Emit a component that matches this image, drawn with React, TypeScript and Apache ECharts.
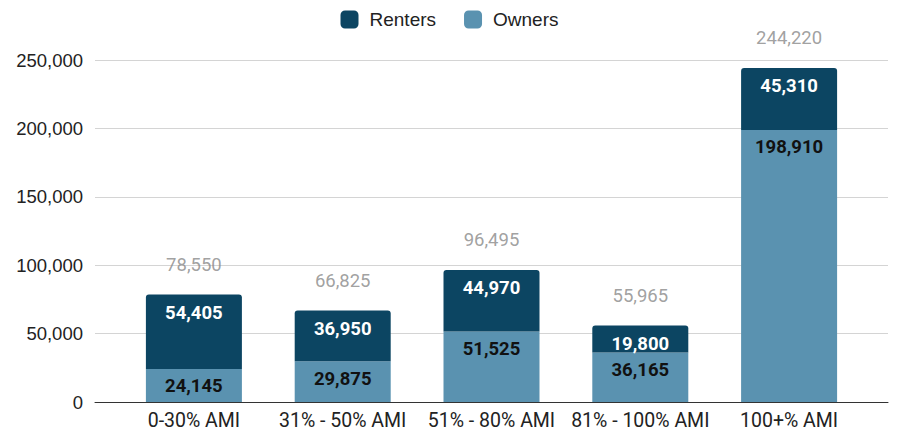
import React, { useEffect, useRef } from "react";
import * as echarts from "echarts";

const categories = ["0-30% AMI", "31% - 50% AMI", "51% - 80% AMI", "81% - 100% AMI", "100+% AMI"];
const owners = [24145, 29875, 51525, 36165, 198910];
const renters = [54405, 36950, 44970, 19800, 45310];
const totals = [78550, 66825, 96495, 55965, 244220];
const yTicks = [0, 50000, 100000, 150000, 200000, 250000];

const fmt = (v: number) => v.toLocaleString("en-US");
const SANS = "'Liberation Sans', Arial, sans-serif";

export default function App() {
  const ref = useRef<HTMLDivElement>(null);
  useEffect(() => {
    const chart = echarts.init(ref.current!, undefined, { renderer: "svg" });
    const top = 60;
    const bottom = 33;
    chart.setOption({
      animation: false,
      legend: {
        data: ["Renters", "Owners"],
        top: 5,
        left: "center",
        itemWidth: 18,
        itemHeight: 18,
        itemGap: 28,
        icon: "roundRect",
        textStyle: { fontFamily: SANS, fontSize: 19, color: "#222", padding: [0, 0, 0, 6] },
      },
      grid: [
        { left: 95, right: 11, top, bottom },
        { left: 119.5, right: 35.5, top, bottom },
      ],
      xAxis: [
        {
          type: "category",
          gridIndex: 0,
          data: categories,
          axisLine: { lineStyle: { color: "#333", width: 1 } },
          axisTick: { show: false },
          axisLabel: { show: false },
        },
        {
          type: "category",
          gridIndex: 1,
          data: categories,
          axisLine: { show: false },
          axisTick: { show: false },
          axisLabel: { interval: 0, fontFamily: "Roboto", fontSize: 19.5, color: "#222", margin: 8 },
        },
      ],
      yAxis: [
        {
          type: "value",
          gridIndex: 0,
          min: yTicks[0],
          max: yTicks[yTicks.length - 1],
          interval: 50000,
          axisLine: { show: false },
          axisTick: { show: false },
          splitLine: { lineStyle: { color: "#d4d4d4", width: 1 } },
          axisLabel: {
            fontFamily: SANS,
            fontSize: 18.5,
            color: "#222",
            margin: 12,
            formatter: (v: number) => fmt(v),
          },
        },
        {
          type: "value",
          gridIndex: 1,
          min: yTicks[0],
          max: yTicks[yTicks.length - 1],
          interval: 50000,
          show: false,
          splitLine: { show: false },
        },
      ],
      series: [
        {
          name: "Owners",
          type: "bar",
          stack: "t",
          xAxisIndex: 1,
          yAxisIndex: 1,
          data: owners,
          barWidth: 96,
          itemStyle: { color: "#5a92b0" },
          label: {
            show: true,
            position: "insideTop",
            distance: 8,
            fontFamily: "Roboto",
            fontWeight: "bold",
            fontSize: 18.5,
            color: "#111",
            formatter: (p: any) => fmt(p.value),
          },
        },
        {
          name: "Renters",
          type: "bar",
          stack: "t",
          xAxisIndex: 1,
          yAxisIndex: 1,
          data: renters,
          barWidth: 96,
          itemStyle: { color: "#0c4562", borderRadius: [3, 3, 0, 0] },
          label: {
            show: true,
            position: "insideTop",
            distance: 9,
            fontFamily: "Roboto",
            fontWeight: "bold",
            fontSize: 18.5,
            color: "#fff",
            formatter: (p: any) => fmt(p.value),
          },
        },
        {
          name: "Total",
          type: "scatter",
          xAxisIndex: 1,
          yAxisIndex: 1,
          data: totals,
          symbolSize: 0,
          silent: true,
          label: {
            show: true,
            position: "top",
            distance: 20,
            fontFamily: "Roboto",
            fontSize: 18.5,
            color: "#888",
            formatter: (p: any) => fmt(p.value),
          },
        },
      ],
    });
    return () => chart.dispose();
  }, []);
  return <div ref={ref} style={{ width: 899, height: 435, position: "absolute", left: 0, top: 0 }} />;
}
